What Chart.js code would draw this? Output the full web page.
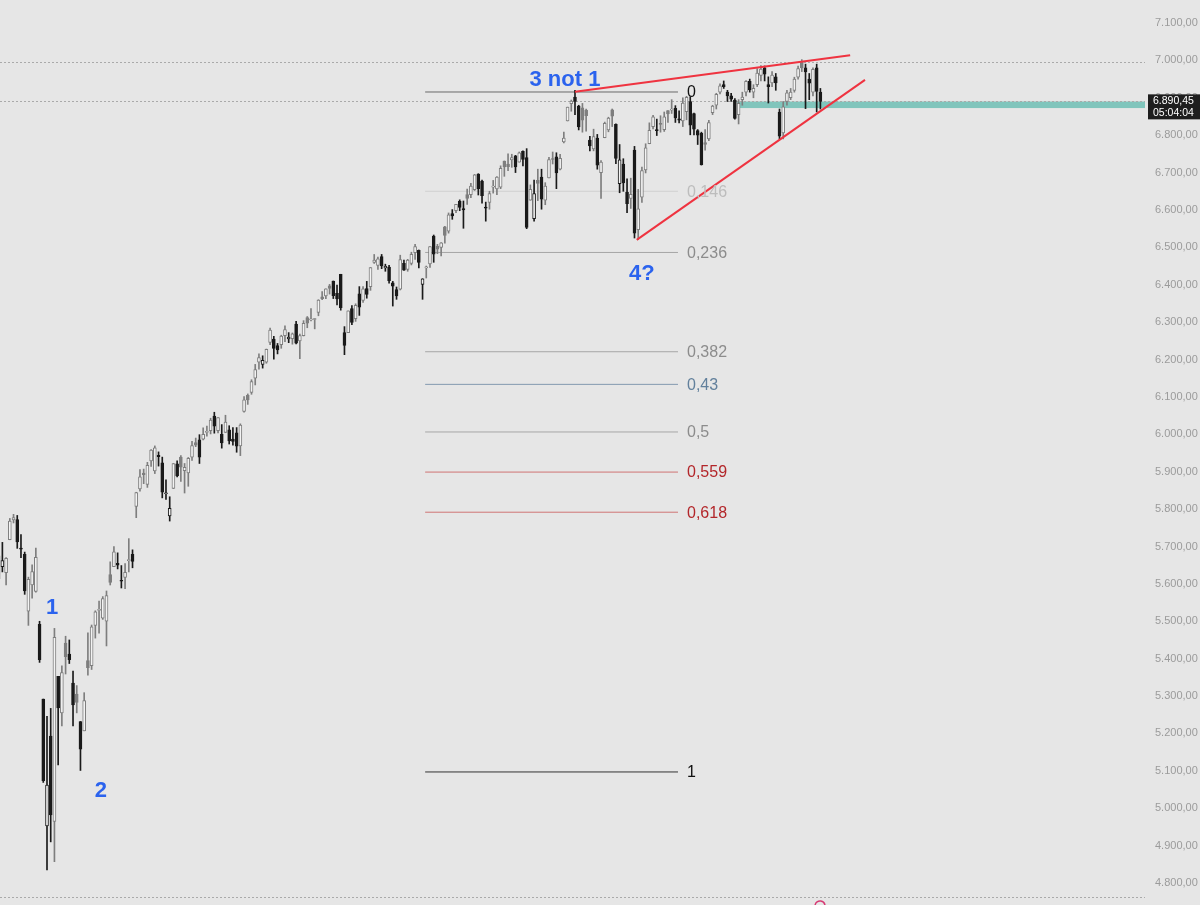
<!DOCTYPE html>
<html><head><meta charset="utf-8">
<script src="https://cdn.jsdelivr.net/npm/chart.js@4.4.1/dist/chart.umd.min.js"></script>
<style>html,body{margin:0;padding:0;background:#e6e6e6;overflow:hidden}#wrap{width:1200px;height:905px;position:relative}</style>
</head><body><div id="wrap"><canvas id="c"></canvas></div>
<script>
// ---- data (S&P 500 daily) ----
const dates = ['2025-03-19','2025-03-20','2025-03-21','2025-03-24','2025-03-25','2025-03-26','2025-03-27','2025-03-28','2025-03-31','2025-04-01','2025-04-02','2025-04-03','2025-04-04','2025-04-07','2025-04-08','2025-04-09','2025-04-10','2025-04-11','2025-04-14','2025-04-15','2025-04-16','2025-04-17','2025-04-21','2025-04-22','2025-04-23','2025-04-24','2025-04-25','2025-04-28','2025-04-29','2025-04-30','2025-05-01','2025-05-02','2025-05-05','2025-05-06','2025-05-07','2025-05-08','2025-05-09','2025-05-12','2025-05-13','2025-05-14','2025-05-15','2025-05-16','2025-05-19','2025-05-20','2025-05-21','2025-05-22','2025-05-23','2025-05-27','2025-05-28','2025-05-29','2025-05-30','2025-06-02','2025-06-03','2025-06-04','2025-06-05','2025-06-06','2025-06-09','2025-06-10','2025-06-11','2025-06-12','2025-06-13','2025-06-16','2025-06-17','2025-06-18','2025-06-20','2025-06-23','2025-06-24','2025-06-25','2025-06-26','2025-06-27','2025-06-30','2025-07-01','2025-07-02','2025-07-03','2025-07-07','2025-07-08','2025-07-09','2025-07-10','2025-07-11','2025-07-14','2025-07-15','2025-07-16','2025-07-17','2025-07-18','2025-07-21','2025-07-22','2025-07-23','2025-07-24','2025-07-25','2025-07-28','2025-07-29','2025-07-30','2025-07-31','2025-08-01','2025-08-04','2025-08-05','2025-08-06','2025-08-07','2025-08-08','2025-08-11','2025-08-12','2025-08-13','2025-08-14','2025-08-15','2025-08-18','2025-08-19','2025-08-20','2025-08-21','2025-08-22','2025-08-25','2025-08-26','2025-08-27','2025-08-28','2025-08-29','2025-09-02','2025-09-03','2025-09-04','2025-09-05','2025-09-08','2025-09-09','2025-09-10','2025-09-11','2025-09-12','2025-09-15','2025-09-16','2025-09-17','2025-09-18','2025-09-19','2025-09-22','2025-09-23','2025-09-24','2025-09-25','2025-09-26','2025-09-29','2025-09-30','2025-10-01','2025-10-02','2025-10-03','2025-10-06','2025-10-07','2025-10-08','2025-10-09','2025-10-10','2025-10-13','2025-10-14','2025-10-15','2025-10-16','2025-10-17','2025-10-20','2025-10-21','2025-10-22','2025-10-23','2025-10-24','2025-10-27','2025-10-28','2025-10-29','2025-10-30','2025-10-31','2025-11-03','2025-11-04','2025-11-05','2025-11-06','2025-11-07','2025-11-10','2025-11-11','2025-11-12','2025-11-13','2025-11-14','2025-11-17','2025-11-18','2025-11-19','2025-11-20','2025-11-21','2025-11-24','2025-11-25','2025-11-26','2025-11-28','2025-12-01','2025-12-02','2025-12-03','2025-12-04','2025-12-05','2025-12-08','2025-12-09','2025-12-10','2025-12-11','2025-12-12','2025-12-15','2025-12-16','2025-12-17','2025-12-18','2025-12-19','2025-12-22','2025-12-23','2025-12-24','2025-12-26','2025-12-29','2025-12-30','2025-12-31','2026-01-02','2026-01-05','2026-01-06','2026-01-07','2026-01-08','2026-01-09','2026-01-12','2026-01-13','2026-01-14','2026-01-15','2026-01-16','2026-01-20','2026-01-21','2026-01-22','2026-01-23','2026-01-26','2026-01-27','2026-01-28','2026-01-29','2026-01-30','2026-02-02','2026-02-03','2026-02-04'];
const open  = [5614,5646,5630,5718,5771,5772,5696,5679,5527,5597,5580,5492,5292,4953,5193,4965,5353,5255,5442,5412,5335,5305,5232,5207,5395,5381,5489,5529,5508,5500,5625,5646,5655,5609,5617,5662,5679,5807,5854,5896,5866,5929,5902,5944,5924,5841,5782,5855,5921,5939,5903,5897,5939,5978,5985,5987,6005,6010,6049,6010,6000,6005,6012,5987,6004,5969,6061,6104,6112,6150,6193,6187,6193,6246,6255,6237,6240,6264,6255,6256,6295,6250,6264,6312,6306,6307,6326,6368,6370,6397,6410,6377,6428,6272,6272,6336,6309,6376,6358,6390,6395,6460,6452,6475,6445,6447,6405,6387,6388,6457,6441,6457,6486,6492,6401,6445,6456,6530,6503,6500,6555,6543,6590,6598,6623,6604,6641,6641,6654,6696,6677,6606,6620,6661,6656,6661,6731,6723,6734,6745,6728,6757,6740,6626,6577,6679,6688,6626,6686,6737,6742,6709,6782,6838,6884,6902,6878,6873,6867,6787,6763,6792,6700,6793,6814,6868,6829,6670,6723,6647,6631,6760,6547,6634,6707,6777,6823,6813,6831,6815,6866,6867,6872,6844,6838,6863,6890,6858,6812,6805,6780,6790,6860,6880,6915,6935,6915,6905,6894,6855,6895,6915,6944,6915,6935,6960,6980,6935,6940,6956,6862,6806,6890,6900,6920,6955,6995,6980,6950,6915,6980,6915];
const high  = [5715,5711,5670,5775,5786,5783,5732,5685,5618,5651,5696,5500,5292,5246,5267,5481,5353,5381,5460,5450,5367,5328,5232,5309,5469,5490,5528,5554,5566,5581,5659,5700,5683,5649,5654,5721,5691,5845,5906,5907,5925,5959,5969,5953,5939,5878,5833,5922,5929,5943,5922,5938,5981,5990,5999,6017,6022,6043,6059,6045,6026,6051,6023,6018,6018,6028,6101,6108,6146,6187,6215,6210,6228,6284,6262,6243,6265,6290,6272,6271,6302,6268,6304,6315,6336,6310,6360,6382,6389,6401,6410,6399,6428,6288,6330,6344,6349,6395,6395,6409,6446,6481,6474,6481,6455,6452,6409,6394,6479,6466,6468,6487,6508,6493,6416,6450,6502,6533,6508,6513,6556,6592,6601,6615,6627,6624,6656,6671,6695,6697,6680,6621,6650,6679,6689,6718,6731,6750,6749,6746,6755,6758,6764,6667,6680,6709,6709,6673,6741,6755,6753,6749,6808,6875,6894,6920,6880,6885,6870,6797,6816,6802,6732,6835,6848,6870,6830,6775,6737,6683,6685,6770,6655,6715,6777,6833,6853,6843,6852,6862,6866,6895,6879,6865,6900,6904,6902,6859,6815,6808,6815,6840,6880,6912,6937,6945,6920,6912,6898,6895,6915,6946,6950,6935,6978,6986,6985,6956,6970,6965,6870,6890,6920,6925,6955,6985,7002,6990,6965,6980,6990,6925];
const low   = [5605,5632,5597,5718,5763,5695,5670,5572,5489,5562,5578,5390,5069,4835,4910,4857,5116,5220,5359,5387,5220,5255,5101,5207,5356,5371,5455,5468,5505,5434,5597,5646,5640,5589,5587,5632,5643,5777,5848,5868,5858,5914,5895,5915,5830,5826,5768,5855,5886,5874,5843,5861,5930,5967,5922,5985,5995,6001,6003,6004,5963,6005,5974,5971,5952,5943,6059,6080,6107,6132,6174,6177,6190,6240,6201,6215,6230,6248,6245,6241,6242,6202,6263,6285,6303,6282,6317,6360,6363,6375,6363,6346,6332,6213,6272,6293,6302,6318,6353,6364,6385,6457,6441,6443,6436,6404,6343,6361,6386,6438,6436,6453,6468,6445,6361,6418,6446,6460,6483,6477,6511,6538,6575,6593,6598,6551,6615,6633,6652,6640,6618,6570,6602,6645,6641,6657,6690,6705,6714,6700,6728,6718,6550,6626,6570,6625,6602,6614,6686,6723,6657,6707,6779,6838,6864,6855,6814,6808,6811,6758,6758,6709,6631,6793,6809,6823,6724,6646,6650,6593,6604,6525,6521,6620,6699,6777,6817,6799,6808,6810,6834,6858,6834,6833,6823,6841,6801,6801,6775,6720,6760,6785,6855,6870,6910,6925,6890,6890,6843,6830,6880,6905,6915,6900,6930,6945,6945,6886,6930,6920,6790,6790,6880,6895,6915,6950,6970,6871,6895,6905,6862,6870];
const close = [5675,5662,5668,5768,5777,5712,5693,5581,5612,5633,5671,5397,5074,5062,4982,5457,5268,5363,5405,5397,5276,5283,5158,5288,5376,5485,5525,5529,5561,5569,5604,5686,5650,5607,5631,5664,5660,5844,5886,5892,5917,5958,5964,5940,5845,5842,5802,5922,5889,5912,5912,5936,5970,5971,5939,6000,6006,6038,6022,6045,5977,6033,5982,5981,5968,6025,6092,6092,6141,6173,6205,6198,6227,6279,6230,6226,6263,6280,6260,6269,6244,6264,6297,6297,6306,6309,6359,6363,6389,6390,6371,6362,6339,6238,6330,6299,6345,6340,6389,6374,6446,6466,6469,6450,6449,6411,6396,6370,6467,6439,6466,6481,6502,6460,6416,6448,6502,6482,6495,6512,6532,6587,6584,6615,6607,6600,6631,6664,6694,6657,6638,6605,6644,6661,6688,6711,6715,6716,6740,6715,6753,6735,6553,6655,6644,6671,6629,6664,6735,6735,6699,6738,6792,6875,6891,6890,6822,6840,6852,6771,6796,6720,6728,6832,6846,6851,6738,6734,6672,6617,6642,6538,6603,6705,6766,6813,6849,6812,6829,6849,6857,6870,6846,6840,6886,6901,6827,6816,6800,6721,6775,6834,6878,6909,6932,6930,6905,6896,6845,6885,6902,6944,6921,6925,6966,6977,6963,6930,6961,6940,6797,6876,6913,6915,6950,6978,6980,6969,6939,6976,6917,6890.45];

const yTicks = [4800,4900,5000,5100,5200,5300,5400,5500,5600,5700,5800,5900,6000,6100,6200,6300,6400,6500,6600,6700,6800,6900,7000,7100];

// Fibonacci retracement
const fibTop = 6915.5, fibBottom = 5097;
const fibLevels = [0, 0.146, 0.236, 0.382, 0.43, 0.5, 0.559, 0.618, 1];
const fibLabels = ['0', '0,146', '0,236', '0,382', '0,43', '0,5', '0,559', '0,618', '1'];
const fibLineColors = ['#6a6a6a', '#d0d0d0', '#a6a6a6', '#a6a6a6', '#8499b0', '#a6a6a6', '#cf7474', '#cf7474', '#333333'];
const fibTextColors = ['#111111', '#bdbdbd', '#8c8c8c', '#8c8c8c', '#62809c', '#8c8c8c', '#b3262a', '#b3262a', '#111111'];
const fibRange = [114.7, 182.7];

// wedge lines [x, price]
const wedgeUpper = [[155.0, 6916], [229.0, 7014]];
const wedgeLower = [[171.6, 6520], [233.0, 6948]];

// notes
const notes = [
  {text: '3 not 1', x: 152.3, y: 6947},
  {text: '1', x: 14.4, y: 5536},
  {text: '2', x: 27.5, y: 5045},
  {text: '4?', x: 173.0, y: 6428}
];
const zone = {from: 198.6, lo: 6872.5, hi: 6890};
const lastPrice = 6890.45, countdown = '05:04:04';
const alertLevel = 6996;

const X_MIN = 0.36, X_MAX = 308.3, Y_MIN = 4741.2, Y_MAX = 7161.5;

// ---- helpers ----
const UP = '#7e7e7e', DOWN = '#1a1a1a', HOLLOW = '#f3f3f3';
function fmt(v){ const p = Number(v).toFixed(2).split('.'); return p[0].replace(/\B(?=(\d{3})+(?!\d))/g,'.') + ',' + p[1]; }
const idx = dates.map((d,i)=>i);
const colors = idx.map(i => close[i] >= (i ? close[i-1] : open[i]) ? UP : DOWN);
const fills = idx.map(i => close[i] < open[i] ? colors[i] : HOLLOW);

const datasets = [];
datasets.push({type:'bar', label:'wicks', data: idx.map(i=>({x:i, y:[low[i], high[i]]})), backgroundColor: colors, borderWidth:0, barThickness:1, grouped:false, order:3});
datasets.push({type:'bar', label:'bodies', data: idx.map(i=>({x:i, y:[open[i], close[i]]})), backgroundColor: fills, borderColor: colors, borderWidth:1, borderSkipped:false, barThickness:3, minBarLength:1, grouped:false, order:2});
fibLevels.forEach((l,j)=>{
  const p = fibTop - l*(fibTop-fibBottom);
  datasets.push({type:'line', label:'fib'+fibLabels[j], data:[{x:fibRange[0], y:p},{x:fibRange[1], y:p}], borderColor: fibLineColors[j], borderWidth:1, pointRadius:0, order:5});
});
[wedgeUpper, wedgeLower].forEach((w,j)=>{
  datasets.push({type:'line', label:'wedge'+j, data: w.map(q=>({x:q[0], y:q[1]})), borderColor:'#ef3340', borderWidth:2, pointRadius:0, order:0});
});

const deco = {
  id:'deco',
  beforeDraw(c){ const g=c.ctx; g.save(); g.fillStyle='#e6e6e6'; g.fillRect(0,0,c.width,c.height); g.restore(); },
  beforeDatasetsDraw(c){
    const g=c.ctx, a=c.chartArea, xs=c.scales.x, ys=c.scales.y;
    g.save();
    const zx = xs.getPixelForValue(zone.from), zy1 = ys.getPixelForValue(zone.hi), zy2 = ys.getPixelForValue(zone.lo);
    g.fillStyle='#80c5bc'; g.fillRect(zx, zy1, a.right - zx, zy2 - zy1);
    g.setLineDash([2,2]); g.lineWidth=1; g.strokeStyle='#aaaaaa';
    [ys.getPixelForValue(alertLevel), ys.getPixelForValue(lastPrice), a.bottom-8].forEach(y=>{
      const yy = Math.round(y)+0.5; g.beginPath(); g.moveTo(a.left, yy); g.lineTo(a.right, yy); g.stroke();
    });
    g.restore();
  },
  afterDatasetsDraw(c){
    const g=c.ctx, a=c.chartArea, xs=c.scales.x, ys=c.scales.y;
    g.save();
    g.font='16px "Liberation Sans", Arial, sans-serif'; g.textBaseline='middle'; g.textAlign='left';
    const lx = xs.getPixelForValue(fibRange[1]) + 9;
    fibLevels.forEach((l,j)=>{
      const p = fibTop - l*(fibTop-fibBottom);
      g.fillStyle = fibTextColors[j]; g.fillText(fibLabels[j], lx, ys.getPixelForValue(p)+1);
    });
    g.font='bold 22px "Liberation Sans", Arial, sans-serif'; g.textAlign='center'; g.fillStyle='#2b63ee';
    notes.forEach(n=> g.fillText(n.text, xs.getPixelForValue(n.x), ys.getPixelForValue(n.y)));
    const py = ys.getPixelForValue(lastPrice);
    g.fillStyle='#1e1e1e'; g.fillRect(a.right+3, py-7, c.width-a.right-3, 25);
    g.fillStyle='#ffffff'; g.font='10.5px "Liberation Sans", Arial, sans-serif'; g.textAlign='left';
    g.fillText(fmt(lastPrice), a.right+8, py);
    g.fillText(countdown, a.right+8, py+12);
    g.strokeStyle='#d63b74'; g.lineWidth=1.5; g.beginPath(); g.arc(xs.getPixelForValue(220.9), a.bottom+1, 5, Math.PI*1.05, Math.PI*1.95); g.stroke();
    g.restore();
  }
};

new Chart(document.getElementById('c'), {
  data: {datasets},
  options: {
    responsive:true, maintainAspectRatio:false, animation:false, devicePixelRatio:1,
    layout:{padding:0},
    plugins:{legend:{display:false}, tooltip:{enabled:false}},
    scales:{
      x:{type:'linear', min:X_MIN, max:X_MAX, display:false, offset:false},
      y:{type:'linear', position:'right', min:Y_MIN, max:Y_MAX,
         grid:{display:false, drawTicks:false}, border:{display:false},
         ticks:{padding:10, color:'#9b9b9b', font:{family:'"Liberation Sans", Arial, sans-serif', size:11}, callback:v=>fmt(v)},
         afterBuildTicks:s=>{ s.ticks = yTicks.map(v=>({value:v})); },
         afterFit:s=>{ s.width = 55; s.paddingTop = 0; s.paddingBottom = 0; }
      }
    }
  },
  plugins:[deco]
});
</script></body></html>
